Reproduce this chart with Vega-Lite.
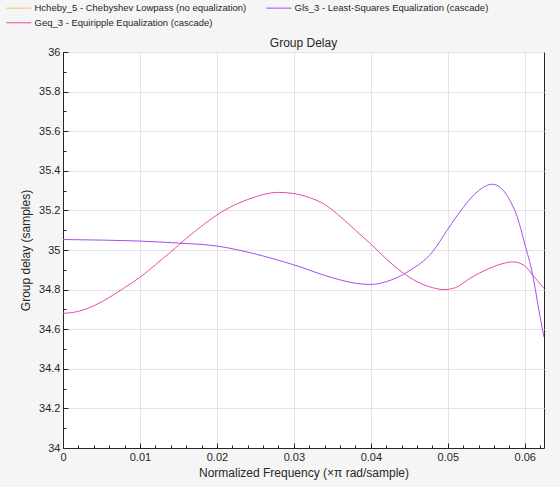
{
  "$schema": "https://vega.github.io/schema/vega-lite/v6.json",
  "width": 481,
  "height": 396,
  "autosize": "none",
  "padding": {"left": 63, "top": 52, "right": 16, "bottom": 39},
  "background": "#f5f5f5",
  "title": {"text": "Group Delay", "fontSize": 12, "fontWeight": "normal", "color": "#262626", "offset": 4, "anchor": "middle", "frame": "group", "dy": 51},
  "data": {"values": [
    {"s": "Hcheby_5 - Chebyshev Lowpass (no equalization)", "f": 0.0, "v": 3.5},
    {"s": "Hcheby_5 - Chebyshev Lowpass (no equalization)", "f": 0.02, "v": 4.2},
    {"s": "Hcheby_5 - Chebyshev Lowpass (no equalization)", "f": 0.04, "v": 5.8},
    {"s": "Hcheby_5 - Chebyshev Lowpass (no equalization)", "f": 0.0625, "v": 9.5},
    {"s": "Gls_3 - Least-Squares Equalization (cascade)", "f": 0.0, "v": 35.053},
    {"s": "Gls_3 - Least-Squares Equalization (cascade)", "f": 0.005, "v": 35.05},
    {"s": "Gls_3 - Least-Squares Equalization (cascade)", "f": 0.01, "v": 35.045},
    {"s": "Gls_3 - Least-Squares Equalization (cascade)", "f": 0.015, "v": 35.035},
    {"s": "Gls_3 - Least-Squares Equalization (cascade)", "f": 0.02, "v": 35.02},
    {"s": "Gls_3 - Least-Squares Equalization (cascade)", "f": 0.025, "v": 34.98},
    {"s": "Gls_3 - Least-Squares Equalization (cascade)", "f": 0.03, "v": 34.925},
    {"s": "Gls_3 - Least-Squares Equalization (cascade)", "f": 0.035, "v": 34.86},
    {"s": "Gls_3 - Least-Squares Equalization (cascade)", "f": 0.038, "v": 34.832},
    {"s": "Gls_3 - Least-Squares Equalization (cascade)", "f": 0.04, "v": 34.826},
    {"s": "Gls_3 - Least-Squares Equalization (cascade)", "f": 0.042, "v": 34.84},
    {"s": "Gls_3 - Least-Squares Equalization (cascade)", "f": 0.045, "v": 34.895},
    {"s": "Gls_3 - Least-Squares Equalization (cascade)", "f": 0.048, "v": 34.99},
    {"s": "Gls_3 - Least-Squares Equalization (cascade)", "f": 0.05, "v": 35.105},
    {"s": "Gls_3 - Least-Squares Equalization (cascade)", "f": 0.052, "v": 35.215},
    {"s": "Gls_3 - Least-Squares Equalization (cascade)", "f": 0.054, "v": 35.30},
    {"s": "Gls_3 - Least-Squares Equalization (cascade)", "f": 0.0558, "v": 35.332},
    {"s": "Gls_3 - Least-Squares Equalization (cascade)", "f": 0.057, "v": 35.31},
    {"s": "Gls_3 - Least-Squares Equalization (cascade)", "f": 0.058, "v": 35.255},
    {"s": "Gls_3 - Least-Squares Equalization (cascade)", "f": 0.059, "v": 35.17},
    {"s": "Gls_3 - Least-Squares Equalization (cascade)", "f": 0.06, "v": 35.03},
    {"s": "Gls_3 - Least-Squares Equalization (cascade)", "f": 0.061, "v": 34.88},
    {"s": "Gls_3 - Least-Squares Equalization (cascade)", "f": 0.062, "v": 34.66},
    {"s": "Gls_3 - Least-Squares Equalization (cascade)", "f": 0.0625, "v": 34.56},
    {"s": "Geq_3 - Equiripple Equalization (cascade)", "f": 0.0, "v": 34.68},
    {"s": "Geq_3 - Equiripple Equalization (cascade)", "f": 0.002, "v": 34.69},
    {"s": "Geq_3 - Equiripple Equalization (cascade)", "f": 0.004, "v": 34.718},
    {"s": "Geq_3 - Equiripple Equalization (cascade)", "f": 0.006, "v": 34.76},
    {"s": "Geq_3 - Equiripple Equalization (cascade)", "f": 0.008, "v": 34.81},
    {"s": "Geq_3 - Equiripple Equalization (cascade)", "f": 0.01, "v": 34.862},
    {"s": "Geq_3 - Equiripple Equalization (cascade)", "f": 0.012, "v": 34.925},
    {"s": "Geq_3 - Equiripple Equalization (cascade)", "f": 0.014, "v": 34.99},
    {"s": "Geq_3 - Equiripple Equalization (cascade)", "f": 0.016, "v": 35.058},
    {"s": "Geq_3 - Equiripple Equalization (cascade)", "f": 0.018, "v": 35.12},
    {"s": "Geq_3 - Equiripple Equalization (cascade)", "f": 0.02, "v": 35.177},
    {"s": "Geq_3 - Equiripple Equalization (cascade)", "f": 0.022, "v": 35.222},
    {"s": "Geq_3 - Equiripple Equalization (cascade)", "f": 0.024, "v": 35.255},
    {"s": "Geq_3 - Equiripple Equalization (cascade)", "f": 0.026, "v": 35.28},
    {"s": "Geq_3 - Equiripple Equalization (cascade)", "f": 0.028, "v": 35.291},
    {"s": "Geq_3 - Equiripple Equalization (cascade)", "f": 0.03, "v": 35.285},
    {"s": "Geq_3 - Equiripple Equalization (cascade)", "f": 0.032, "v": 35.265},
    {"s": "Geq_3 - Equiripple Equalization (cascade)", "f": 0.034, "v": 35.23},
    {"s": "Geq_3 - Equiripple Equalization (cascade)", "f": 0.036, "v": 35.17},
    {"s": "Geq_3 - Equiripple Equalization (cascade)", "f": 0.038, "v": 35.10},
    {"s": "Geq_3 - Equiripple Equalization (cascade)", "f": 0.04, "v": 35.03},
    {"s": "Geq_3 - Equiripple Equalization (cascade)", "f": 0.042, "v": 34.955},
    {"s": "Geq_3 - Equiripple Equalization (cascade)", "f": 0.044, "v": 34.89},
    {"s": "Geq_3 - Equiripple Equalization (cascade)", "f": 0.046, "v": 34.84},
    {"s": "Geq_3 - Equiripple Equalization (cascade)", "f": 0.048, "v": 34.81},
    {"s": "Geq_3 - Equiripple Equalization (cascade)", "f": 0.0495, "v": 34.80},
    {"s": "Geq_3 - Equiripple Equalization (cascade)", "f": 0.051, "v": 34.81},
    {"s": "Geq_3 - Equiripple Equalization (cascade)", "f": 0.053, "v": 34.86},
    {"s": "Geq_3 - Equiripple Equalization (cascade)", "f": 0.055, "v": 34.90},
    {"s": "Geq_3 - Equiripple Equalization (cascade)", "f": 0.057, "v": 34.93},
    {"s": "Geq_3 - Equiripple Equalization (cascade)", "f": 0.0585, "v": 34.94},
    {"s": "Geq_3 - Equiripple Equalization (cascade)", "f": 0.06, "v": 34.92},
    {"s": "Geq_3 - Equiripple Equalization (cascade)", "f": 0.061, "v": 34.875},
    {"s": "Geq_3 - Equiripple Equalization (cascade)", "f": 0.0625, "v": 34.806}
  ]},
  "mark": {"type": "line", "clip": true, "strokeWidth": 1, "interpolate": "monotone"},
  "encoding": {
    "x": {"field": "f", "type": "quantitative", "scale": {"domain": [0, 0.0625], "nice": false, "zero": false},
      "axis": {"orient": "bottom", "title": "Normalized Frequency (×π rad/sample)",
        "values": [0,0.002,0.004,0.006,0.008,0.01,0.012,0.014,0.016,0.018,0.02,0.022,0.024,0.026,0.028,0.03,0.032,0.034,0.036,0.038,0.04,0.042,0.044,0.046,0.048,0.05,0.052,0.054,0.056,0.058,0.06,0.062],
        "labelExpr": "abs(datum.value*100-round(datum.value*100))<1e-6 ? format(datum.value,'~g') : ''",
        "domain": true, "ticks": true, "domainColor": "#262626", "tickColor": "#262626",
        "tickSize": {"condition": {"test": "abs(datum.value*100-round(datum.value*100))<1e-6", "value": -5}, "value": -3},
        "gridOpacity": {"condition": {"test": "abs(datum.value*100-round(datum.value*100))<1e-6", "value": 1}, "value": 0},
        "labelPadding": 8, "titlePadding": 3}},
    "y": {"field": "v", "type": "quantitative", "scale": {"domain": [34, 36], "nice": false, "zero": false},
      "axis": {"orient": "left", "title": "Group delay (samples)",
        "values": [34,34.1,34.2,34.3,34.4,34.5,34.6,34.7,34.8,34.9,35,35.1,35.2,35.3,35.4,35.5,35.6,35.7,35.8,35.9,36],
        "labelExpr": "abs(datum.value*5-round(datum.value*5))<1e-6 ? format(datum.value,'~g') : ''",
        "domain": true, "ticks": true, "domainColor": "#262626", "tickColor": "#262626",
        "tickSize": {"condition": {"test": "abs(datum.value*5-round(datum.value*5))<1e-6", "value": -5}, "value": -3},
        "gridOpacity": {"condition": {"test": "abs(datum.value*5-round(datum.value*5))<1e-6", "value": 1}, "value": 0},
        "labelPadding": 8, "titlePadding": 6}},
    "color": {"field": "s", "type": "nominal",
      "scale": {"domain": ["Hcheby_5 - Chebyshev Lowpass (no equalization)", "Gls_3 - Least-Squares Equalization (cascade)", "Geq_3 - Equiripple Equalization (cascade)"],
                "range": ["#EFC070", "#A24FEE", "#E64BAA"]},
      "legend": {"orient": "none", "legendX": -49, "legendY": -49, "direction": "horizontal", "columns": 2, "title": null,
        "symbolType": "M-5,0H5", "symbolSize": 25, "symbolStrokeWidth": 1, "labelFontSize": 9.5, "labelOffset": 11, "labelLimit": 0,
        "columnPadding": 17, "rowPadding": 4, "labelColor": "#262626", "padding": 0}}
  },
  "config": {
    "font": "Liberation Sans",
    "view": {"stroke": "#262626", "strokeWidth": 1, "fill": "white"},
    "axis": {"gridColor": "#e3e3e3", "gridWidth": 1, "labelFontSize": 11, "labelColor": "#262626",
      "titleFontSize": 12, "titleFontWeight": "normal", "titleColor": "#262626",
      "labelOverlap": false, "labelFlush": false}
  }
}
